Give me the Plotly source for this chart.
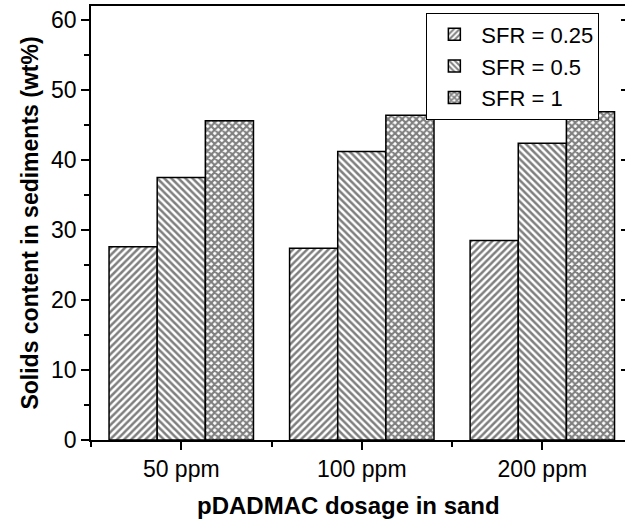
import plotly.graph_objects as go

# Sediment solids content by pDADMAC dosage and sand-to-fines ratio
categories = ["50 ppm", "100 ppm", "200 ppm"]
series_names = ["SFR = 0.25", "SFR = 0.5", "SFR = 1"]
sfr_025 = [27.6, 27.4, 28.5]
sfr_05 = [37.5, 41.2, 42.4]
sfr_1 = [45.6, 46.4, 46.9]
y_ticks = [0, 10, 20, 30, 40, 50, 60]

series_values = [sfr_025, sfr_05, sfr_1]
hatches = ["/", "\\", "x"]
solidities = [0.5, 0.5, 0.65]
xpos = list(range(len(categories)))

fig = go.Figure()
for name, vals, hatch, sol in zip(series_names, series_values, hatches, solidities):
    fig.add_trace(go.Bar(
        x=xpos, y=vals, name=name,
        marker=dict(
            color="white",
            line=dict(color="black", width=1.5),
            pattern=dict(shape=hatch, fgcolor="black", bgcolor="white",
                         size=5, solidity=sol, fillmode="overlay"),
        ),
    ))

# right-hand mirror ticks
fig.add_trace(go.Scatter(x=[0], y=[0], yaxis="y2", mode="markers",
                         marker=dict(opacity=0), showlegend=False, hoverinfo="skip"))

font_family = "Arial, Liberation Sans, sans-serif"
fig.update_layout(
    width=625, height=522,
    margin=dict(l=91, r=0, t=6, b=82),
    paper_bgcolor="white", plot_bgcolor="white",
    barmode="group", bargap=0.2, bargroupgap=0,
    font=dict(family=font_family, color="black", size=22),
    showlegend=True,
    legend=dict(
        x=0.628, y=0.985, xanchor="left", yanchor="top",
        bordercolor="black", borderwidth=1, bgcolor="white",
        font=dict(size=22, family=font_family),
        tracegroupgap=0, itemwidth=44,
    ),
    xaxis=dict(
        range=[-0.5, 2.458],
        tickmode="array", tickvals=xpos, ticktext=categories,
        ticks="outside", ticklen=8, tickwidth=1.5, tickcolor="black",
        minor=dict(tick0=-0.5, dtick=1, ticks="outside", ticklen=5,
                   tickwidth=1.5, tickcolor="black"),
        showline=True, linecolor="black", linewidth=1.5, mirror=True,
        showgrid=False, zeroline=False,
        tickfont=dict(size=23),
    ),
    yaxis=dict(
        range=[0, 62],
        tickmode="array", tickvals=y_ticks,
        ticks="outside", ticklen=8, tickwidth=1.5, tickcolor="black",
        minor=dict(dtick=5, tick0=0, ticks="outside", ticklen=5,
                   tickwidth=1.5, tickcolor="black"),
        showline=True, linecolor="black", linewidth=1.5,
        showgrid=False, zeroline=False,
        tickfont=dict(size=23),
        title=dict(text="<b>Solids content in sediments (wt%)</b>",
                   font=dict(size=23), standoff=6),
    ),
    yaxis2=dict(
        overlaying="y", side="right", range=[0, 62],
        tickmode="array", tickvals=y_ticks,
        ticks="inside", ticklen=4, tickwidth=1.5, tickcolor="black",
        showticklabels=False, showline=False, showgrid=False, zeroline=False,
    ),
    annotations=[dict(
        text="<b>pDADMAC dosage in sand</b>", font=dict(size=24),
        xref="paper", yref="paper", x=0.483, y=-0.150,
        xanchor="center", yanchor="middle", showarrow=False,
    )],
)

fig.write_html("out.html")
